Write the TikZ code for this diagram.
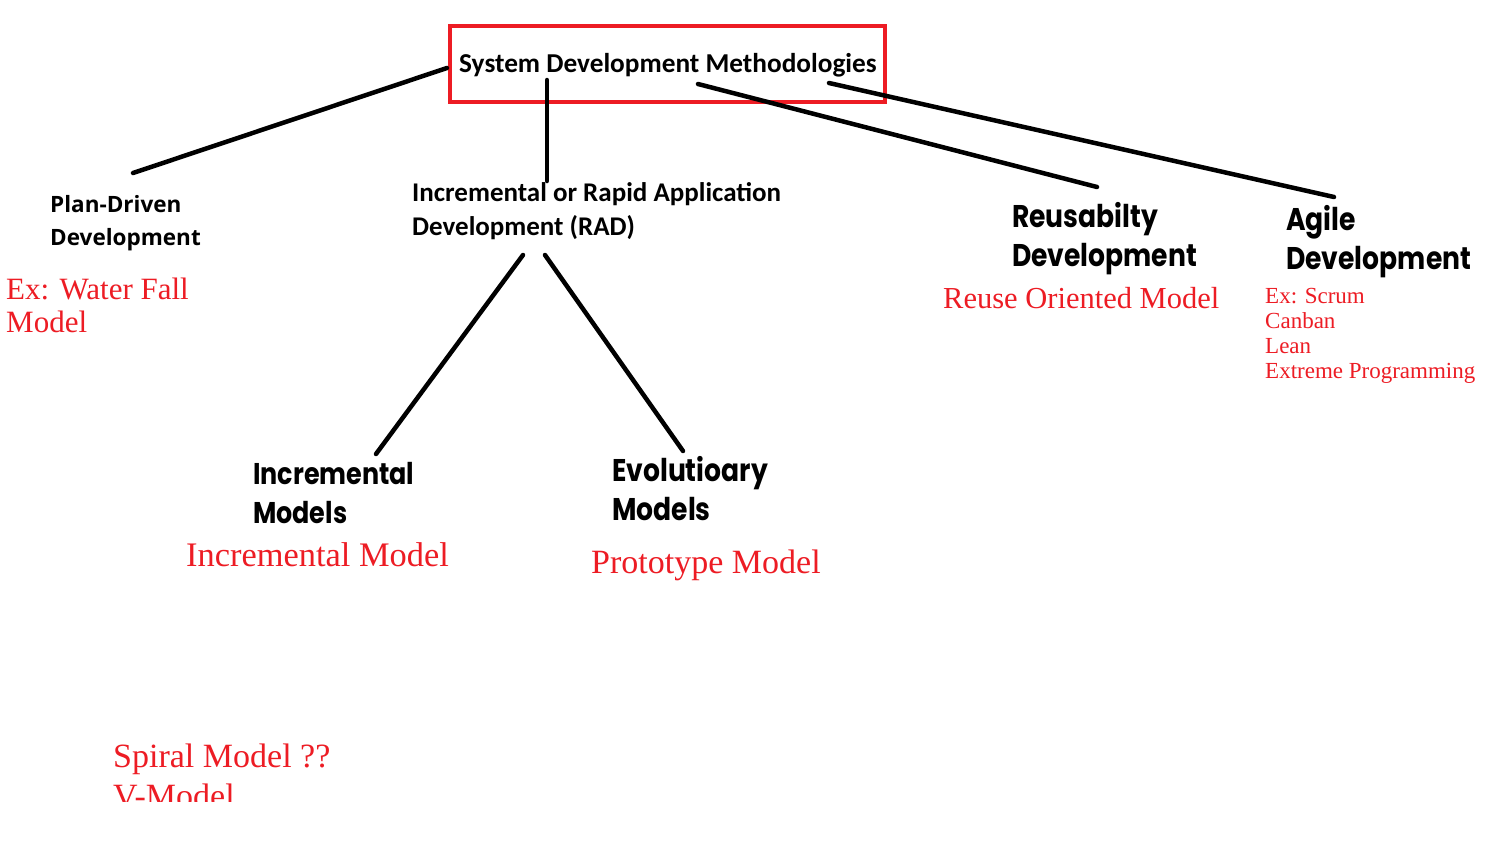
\documentclass[tikz,border=0pt]{standalone}
\usepackage{graphicx}
\usepackage{fontspec}
\newfontfamily\calib{Carlito}
\newfontfamily\segoe{Open Sans}
\newfontfamily\geo{Poppins}
\newfontfamily\rser{Liberation Serif}
\definecolor{mred}{HTML}{ED1C24}
\newcommand{\tallline}[1]{\scalebox{1}[1.18]{#1}}
\begin{document}
\begin{tikzpicture}[x=1pt,y=-1pt,
  conn/.style={line width=4.5pt,line cap=round,black},
  lbl/.style={inner sep=0pt,anchor=base west,align=left},
  redtxt/.style={lbl,text=mred}]
\useasboundingbox[fill=white] (0,0) rectangle (1496,846);
% root
\draw[mred,line width=4pt] (450,26) rectangle (885,102);
\node[lbl,font={\calib\bfseries\fontsize{27.3}{34}\selectfont}] (root) at (459,72) {System Development Methodologies};
\coordinate (r1) at (447,68);
\coordinate (r2) at (547,80);
\coordinate (r3) at (698,84);
\coordinate (r4) at (829,83);
% level 1 (base anchor = baseline of last line)
\node[lbl,font={\segoe\bfseries\fontsize{22.5}{33}\selectfont}] (plan) at (50,245) {Plan-Driven\\Development};
\node[redtxt,font={\rser\fontsize{31}{33}\selectfont}] (planex) at (6,332) {Ex: Water Fall\\Model};
\node[lbl,font={\calib\bfseries\fontsize{27}{34}\selectfont}] (rad) at (412,235) {Incremental or Rapid Application\\Development (RAD)};
\node[lbl,font={\geo\bfseries\fontsize{26.6}{39}\selectfont}] (reuse) at (1012,266) {\tallline{Reusabilty}\\\tallline{Development}};
\node[redtxt,font={\rser\fontsize{30.5}{33}\selectfont}] (reuseex) at (943,308) {Reuse Oriented Model};
\node[lbl,font={\geo\bfseries\fontsize{26.6}{39}\selectfont}] (agile) at (1286,269) {\tallline{Agile}\\\tallline{Development}};
\node[redtxt,font={\rser\fontsize{23}{25}\selectfont}] (agileex) at (1265,378) {Ex: Scrum\\Canban\\Lean\\Extreme Programming};
\coordinate (p1) at (133,173);
\coordinate (q1) at (547,181);
\coordinate (s1) at (1097,187);
\coordinate (a1) at (1334,197);
\coordinate (d1) at (523,255);
\coordinate (d2) at (545,255);
% level 2
\node[lbl,font={\geo\bfseries\fontsize{25.4}{39}\selectfont}] (incm) at (253,523) {\tallline{Incremental}\\\tallline{Models}};
\node[redtxt,font={\rser\fontsize{34.4}{36}\selectfont}] (incex) at (186,566) {Incremental Model};
\node[lbl,font={\geo\bfseries\fontsize{26.6}{39}\selectfont}] (evo) at (612,520) {\tallline{Evolutioary}\\\tallline{Models}};
\node[redtxt,font={\rser\fontsize{34}{36}\selectfont}] (evoex) at (591,573) {Prototype Model};
\coordinate (i1) at (376,454);
\coordinate (e1) at (683,451);
% connectors
\draw[conn] (r1) -- (p1);
\draw[conn] (r2) -- (q1);
\draw[conn] (r3) -- (s1);
\draw[conn] (r4) -- (a1);
\draw[conn] (d1) -- (i1);
\draw[conn] (d2) -- (e1);
% bottom
\begin{scope}
\clip (0,0) rectangle (1496,801);
\node[redtxt,font={\rser\fontsize{34}{40}\selectfont}] (spiral) at (113,807) {Spiral Model ??\\V-Model};
\end{scope}
\end{tikzpicture}
\end{document}
